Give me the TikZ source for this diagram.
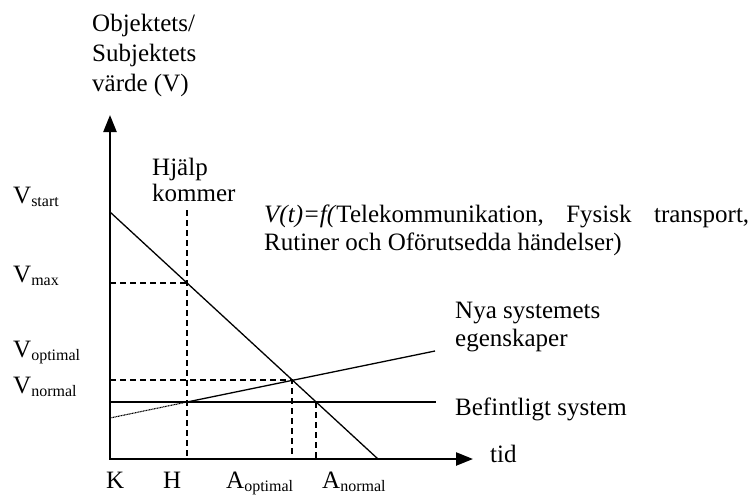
\documentclass[tikz,border=0pt]{standalone}
\usepackage{fontspec}
\setmainfont{Liberation Serif}
\usetikzlibrary{arrows.meta}
\newcommand\sbs[1]{\raisebox{-0.14em}{\fontsize{16}{16}\selectfont #1}}
\begin{document}
\begin{tikzpicture}[x=1pt,y=-1pt,
  lbl/.style={anchor=base west, inner sep=0pt, font=\fontsize{25}{28}\selectfont},
  axisline/.style={line width=2.4pt, {Triangle[length=17pt,width=13pt]}-{Triangle[length=17pt,width=13pt]}},
  curve/.style={line width=1.3pt},
  guide/.style={line width=1.3pt, dash pattern=on 6pt off 4pt},
  fine/.style={line width=1.1pt, dash pattern=on 1pt off 0.6pt}]
\useasboundingbox (0,0) rectangle (754,498);
% key points
\coordinate (O) at (110,459);
\coordinate (ytip) at (110,115);
\coordinate (xtip) at (473,459);
\coordinate (vstart) at (110,212);
\coordinate (fall) at (378,459);
\coordinate (hmax) at (187,283);
\coordinate (hnorm) at (187,402);
\coordinate (htop) at (187,210);
\coordinate (hbot) at (187,459);
\coordinate (vmaxax) at (110,283);
\coordinate (nstart) at (110,418);
\coordinate (nend) at (435,351);
\coordinate (opt) at (292,380);
\coordinate (optax) at (110,380);
\coordinate (optbot) at (292,459);
\coordinate (norm) at (316,402);
\coordinate (normbot) at (316,459);
\coordinate (normax) at (110,402);
\coordinate (normend) at (436,402);
% axes
\draw[axisline] (ytip) -- (O) -- (xtip);
% curves
\draw[curve] (vstart) -- (fall);
\draw[curve] (normax) -- (normend);
\draw[curve] (hnorm) -- (nend);
\draw[fine] (nstart) -- (hnorm);
% guides
\draw[guide] (htop) -- (hbot);
\draw[guide] (vmaxax) -- (hmax);
\draw[guide] (optax) -- (opt) -- (optbot);
\draw[guide] (norm) -- (normbot);
% labels
\node[lbl] (l1) at (92,31) {Objektets/};
\node[lbl] (l2) at (92,61) {Subjektets};
\node[lbl] (l3) at (92,91) {värde (V)};
\node[lbl] (hj1) at (152,175) {Hjälp};
\node[lbl] (hj2) at (152,201) {kommer};
\node[lbl] (f1) at (264,222) {\hbox to 485pt{\textit{V(t)=f(}Telekommunikation,\hfill Fysisk\hfill transport,}};
\node[lbl] (f2) at (264,250) {Rutiner och Oförutsedda händelser)};
\node[lbl] (vs) at (13,203) {V\sbs{start}};
\node[lbl] (vm) at (13,282) {V\sbs{max}};
\node[lbl] (vo) at (13,357) {V\sbs{optimal}};
\node[lbl] (vn) at (13,393) {V\sbs{normal}};
\node[lbl] (ny1) at (455,318) {Nya systemets};
\node[lbl] (ny2) at (455,346) {egenskaper};
\node[lbl] (bef) at (455,415) {Befintligt system};
\node[lbl] (tid) at (490,462) {tid};
\node[lbl] (k) at (106,488) {K};
\node[lbl] (h) at (163,488) {H};
\node[lbl] (ao) at (226,488) {A\sbs{optimal}};
\node[lbl] (an) at (322,488) {A\sbs{normal}};
\end{tikzpicture}
\end{document}
